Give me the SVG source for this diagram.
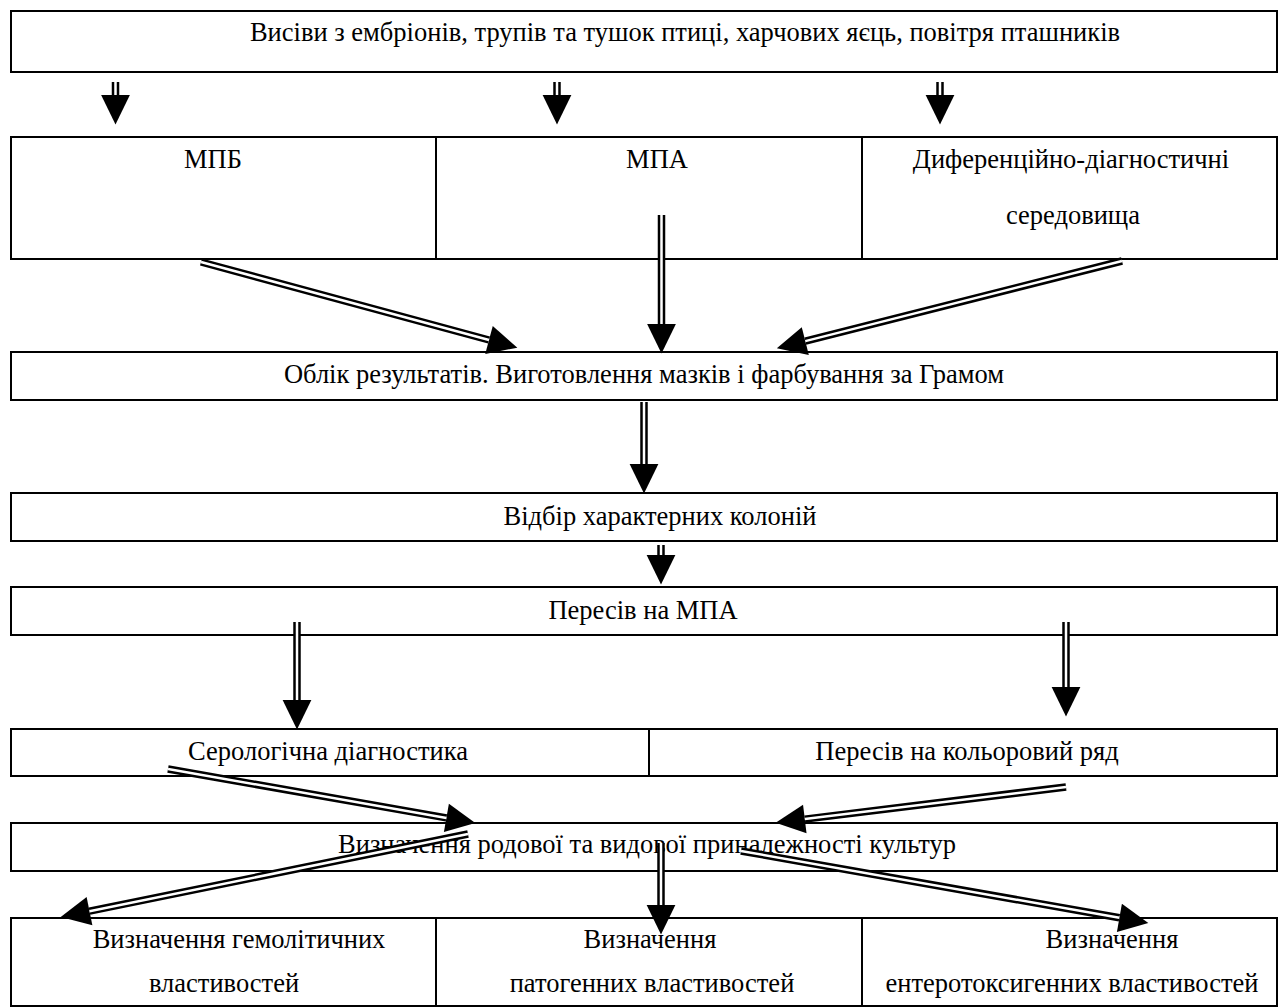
<svg xmlns="http://www.w3.org/2000/svg" width="1278" height="1007" viewBox="0 0 1278 1007">
<style>
.box{fill:none;stroke:#000;stroke-width:2}
.div{stroke:#000;stroke-width:2}
.sh{fill:none;stroke:#000;stroke-width:7.5}
.in{fill:none;stroke:#fff;stroke-width:2.5}
</style>
<defs>
<marker id="ah" markerUnits="userSpaceOnUse" markerWidth="30" markerHeight="30" refX="0" refY="0" viewBox="0 -12 24 24" orient="auto" overflow="visible">
<path d="M0,-11.5 L23.5,0 L0,11.5 Z" fill="#000"/>
</marker>
</defs>
<rect width="1278" height="1007" fill="#fff"/>
<g font-family="Liberation Serif, Times New Roman, serif" font-size="26.5" text-anchor="middle" fill="#000">
<g id="n-top"><rect class="box" x="11" y="11" width="1266" height="61"/><text x="685" y="41">Висіви з ембріонів, трупів та тушок птиці, харчових яєць, повітря пташників</text></g>
<g id="n-row2"><rect class="box" x="11" y="137" width="1266" height="122"/><line class="div" x1="436" y1="137" x2="436" y2="259"/><line class="div" x1="862" y1="137" x2="862" y2="259"/></g>
<g id="n-mpb"><text x="213" y="168">МПБ</text></g>
<g id="n-mpa"><text x="657" y="168">МПА</text></g>
<g id="n-ddc"><text x="1071" y="168">Диференційно-діагностичні</text><text x="1073" y="224">середовища</text></g>
<g id="n-oblik"><rect class="box" x="11" y="352" width="1266" height="48"/><text x="644" y="383">Облік результатів. Виготовлення мазків і фарбування за Грамом</text></g>
<g id="n-vidbir"><rect class="box" x="11" y="493" width="1266" height="48"/><text x="660" y="525">Відбір характерних колоній</text></g>
<g id="n-peresiv"><rect class="box" x="11" y="587" width="1266" height="48"/><text x="643" y="619">Пересів на МПА</text></g>
<g id="n-row6"><rect class="box" x="11" y="729" width="1266" height="47"/><line class="div" x1="649" y1="729" x2="649" y2="776"/></g>
<g id="n-sero"><text x="328" y="760">Серологічна діагностика</text></g>
<g id="n-kolir"><text x="967" y="760">Пересів на кольоровий ряд</text></g>
<g id="n-vyzn"><rect class="box" x="11" y="823" width="1266" height="48"/><text x="647" y="853">Визначення родової та видової приналежності культур</text></g>
<g id="n-row8"><rect class="box" x="11" y="918" width="1266" height="88"/><line class="div" x1="436" y1="918" x2="436" y2="1006"/><line class="div" x1="862" y1="918" x2="862" y2="1006"/></g>
<g id="n-hemo"><text x="239" y="948">Визначення гемолітичних</text><text x="224" y="992">властивостей</text></g>
<g id="n-pato"><text x="650" y="948">Визначення</text><text x="652" y="992">патогенних властивостей</text></g>
<g id="n-entero"><text x="1112" y="948">Визначення</text><text x="1072" y="992">ентеротоксигенних властивостей</text></g>
</g>
<g id="connectors">
<path class="sh" d="M115.5,82 L115.5,95" marker-end="url(#ah)"/><path class="in" d="M115.5,82 L115.5,95"/>
<path class="sh" d="M557,82 L557,95" marker-end="url(#ah)"/><path class="in" d="M557,82 L557,95"/>
<path class="sh" d="M940,82 L940,95" marker-end="url(#ah)"/><path class="in" d="M940,82 L940,95"/>
<path class="sh" d="M201,262 L489,340" marker-end="url(#ah)"/><path class="in" d="M201,262 L489,340"/>
<path class="sh" d="M661.5,215 L661.5,324" marker-end="url(#ah)"/><path class="in" d="M661.5,215 L661.5,324"/>
<path class="sh" d="M1122,261 L805.3,341.1" marker-end="url(#ah)"/><path class="in" d="M1122,261 L805.3,341.1"/>
<path class="sh" d="M644,402 L644,464" marker-end="url(#ah)"/><path class="in" d="M644,402 L644,464"/>
<path class="sh" d="M661,545 L661,555" marker-end="url(#ah)"/><path class="in" d="M661,545 L661,555"/>
<path class="sh" d="M297,622 L297,700" marker-end="url(#ah)"/><path class="in" d="M297,622 L297,700"/>
<path class="sh" d="M1066,622 L1066,687" marker-end="url(#ah)"/><path class="in" d="M1066,622 L1066,687"/>
<path class="sh" d="M168,769 L446.4,817.9" marker-end="url(#ah)"/><path class="in" d="M168,769 L446.4,817.9"/>
<path class="sh" d="M1066,787 L804.8,819.1" marker-end="url(#ah)"/><path class="in" d="M1066,787 L804.8,819.1"/>
<path class="sh" d="M468,834 L89.5,911.2" marker-end="url(#ah)"/><path class="in" d="M468,834 L89.5,911.2"/>
<path class="sh" d="M661,843 L661,905" marker-end="url(#ah)"/><path class="in" d="M661,843 L661,905"/>
<path class="sh" d="M741,851 L1119.4,917.8" marker-end="url(#ah)"/><path class="in" d="M741,851 L1119.4,917.8"/>
</g>
</svg>
